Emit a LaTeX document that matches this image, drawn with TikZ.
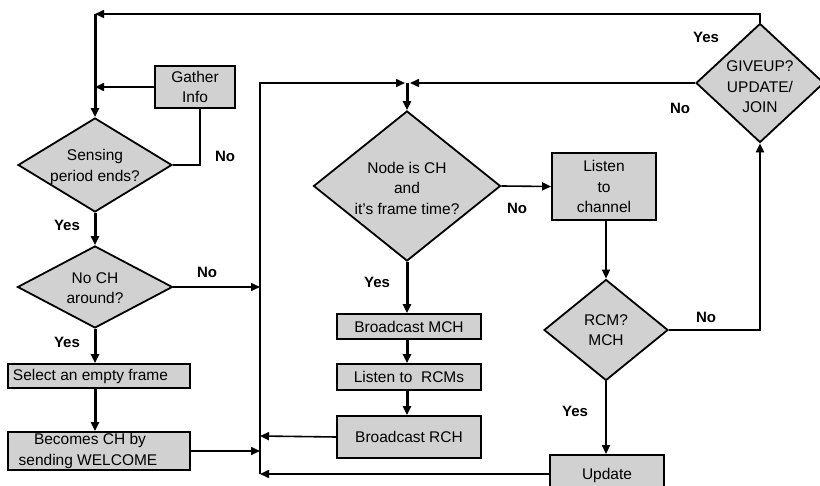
\documentclass[tikz,border=0pt]{standalone}
\usepackage{fontspec}
\setmainfont{Liberation Sans}
\usetikzlibrary{shapes.geometric,arrows.meta}
\definecolor{boxfill}{gray}{0.82}
\tikzset{
  every node/.style={font=\fontsize{15.5}{20.5}\selectfont},
  procbox/.style={draw=black, line width=1.8pt, fill=boxfill, inner sep=0pt, align=center},
  decbox/.style={diamond, draw=black, line width=1.8pt, fill=boxfill, inner sep=0pt},
  decaxis/.style={align=center, inner sep=0pt},
  ans/.style={font=\fontsize{15}{18}\selectfont\bfseries, inner sep=0pt},
  thinline/.style={line width=1.6pt},
  thickline/.style={line width=3pt},
  arr/.style={-{Triangle[length=9pt,width=8pt]}},
}
\begin{document}
\begin{tikzpicture}[x=1pt,y=-1pt]
\useasboundingbox (0,0) rectangle (820,486);

% decisions
\node[decbox, minimum width=154, minimum height=94] (sense) at (95,165) {};
\node[decaxis] (senset) at (95,167) {Sensing\\period ends?};
\node[decbox, minimum width=155, minimum height=82] (nch) at (95,287) {};
\node[decaxis] (ncht) at (95,288) {No CH\\around?};
\node[decbox, minimum width=187, minimum height=150] (nodech) at (407,186) {};
\node[decaxis] (nodecht) at (407,188) {Node is CH\\and\\it's frame time?};
\node[decbox, minimum width=124, minimum height=101] (rcm) at (606,330) {};
\node[decaxis] (rcmt) at (606,330) {RCM?\\MCH};
\node[decbox, minimum width=128, minimum height=119] (give) at (760,83) {};
\node[decaxis] (givet) at (760,87) {GIVEUP?\\UPDATE/\\JOIN};

% process boxes
\node[procbox, minimum width=80, minimum height=42] (gather) at (195,87) {Gather\\Info};
\node[procbox, minimum width=182, minimum height=24] (select) at (99,376) {\hspace*{-17pt}Select an empty frame};
\node[procbox, minimum width=182, minimum height=38] (becomes) at (99,451) {\hspace*{-18pt}Becomes CH by\\\hspace*{-22pt}sending WELCOME};
\node[procbox, minimum width=144, minimum height=25] (bmch) at (409,326.5) {Broadcast MCH};
\node[procbox, minimum width=144, minimum height=26] (lrcm) at (409,377) {Listen to\ \ RCMs};
\node[procbox, minimum width=144, minimum height=42] (brch) at (409,437) {Broadcast RCH};
\node[procbox, minimum width=104, minimum height=67] (listen) at (604,186.5) {Listen\\to\\channel};
\node[procbox, minimum width=114, minimum height=40] (update) at (607,475) {Update};

% junction coordinates
\coordinate (tl) at (95,14);
\coordinate (gin) at (95,87);
\coordinate (bustop) at (260,83);
\coordinate (bus1) at (260,287);
\coordinate (bus2) at (260,451);
\coordinate (bus3) at (260,436);
\coordinate (bus4) at (260,474);
\coordinate (jnL) at (405,83);
\coordinate (jnR) at (410,83);
\coordinate (jnC) at (407,83);

% connectors
\draw[thinline, arr] (give.north) |- (tl);
\draw[thickline, arr] (tl) -- (sense.north);
\draw[thinline, arr] (gather.west) -- (gin);
\draw[thinline] (sense.east) -| ([xshift=5]gather.south);
\draw[thickline, arr] (sense.south) -- (nch.north);
\draw[thinline, arr] (nch.east) -- (bus1);
\draw[thickline, arr] (nch.south) -- (nch.south |- select.north);
\draw[thickline, arr] (nch.south |- select.south) -- (nch.south |- becomes.north);
\draw[thinline, arr] (becomes.east) -- (bus2);
\draw[thinline, arr] (brch.west) -- (bus3);
\draw[thinline, arr] (update.west |- bus4) -- (bus4);
\draw[thinline, arr] (bus4) -- (bustop) -- (jnL);
\draw[thinline, arr] (give.west) -- (jnR);
\draw[thickline, arr] (jnC) -- (nodech.north);
\draw[thinline, arr] (nodech.east) -- (listen.west);
\draw[thickline, arr] (nodech.south) -- (nodech.south |- bmch.north);
\draw[thickline, arr] (nodech.south |- bmch.south) -- (nodech.south |- lrcm.north);
\draw[thickline, arr] (nodech.south |- lrcm.south) -- (nodech.south |- brch.north);
\draw[thinline, arr] (listen.south -| rcm.north) -- (rcm.north);
\draw[line width=2.2pt, arr] (rcm.east) -| (give.south);
\draw[thinline, arr] (rcm.south) -- (update.north -| rcm.south);

% answer labels
\node[ans] (a1) at (225,156) {No};
\node[ans] (a2) at (67,225) {Yes};
\node[ans] (a3) at (207,272) {No};
\node[ans] (a4) at (67,342) {Yes};
\node[ans] (a5) at (517,208) {No};
\node[ans] (a6) at (377,282) {Yes};
\node[ans] (a7) at (706,317) {No};
\node[ans] (a8) at (575,411) {Yes};
\node[ans] (a9) at (706,37) {Yes};
\node[ans] (a10) at (680,108) {No};
\end{tikzpicture}
\end{document}
